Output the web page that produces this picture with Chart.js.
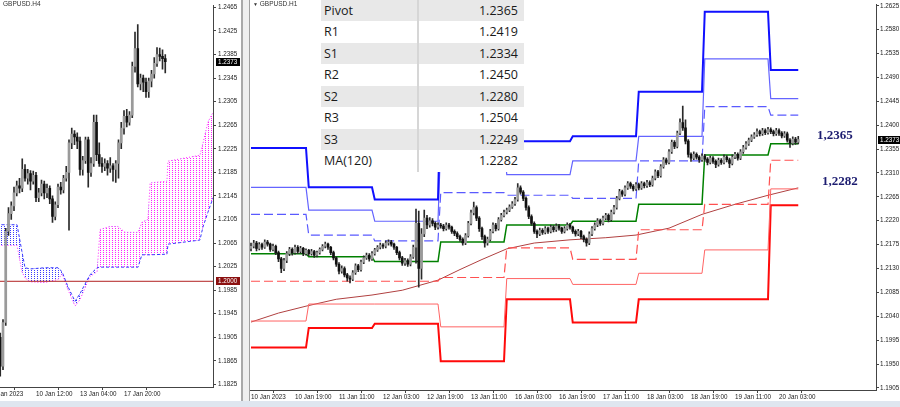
<!DOCTYPE html>
<html>
<head>
<meta charset="utf-8">
<script src="https://cdn.jsdelivr.net/npm/chart.js@4/dist/chart.umd.min.js"></script>
<style>
  body { margin: 0; width: 900px; height: 407px; overflow: hidden; background: #fff; position: relative; font-family: 'Liberation Sans', Arial, sans-serif; }
  canvas { position: absolute; top: 0; }
  #h4 { left: -30px; }
  #h1 { left: 249px; }
  .sep1 { position: absolute; left: 241px; top: 0; width: 2px; height: 401px; background: #a9a9a9; }
  .sep2 { position: absolute; left: 243px; top: 0; width: 6px; height: 401px; background: #efefef; }
  .sep3 { position: absolute; left: 249px; top: 0; width: 1px; height: 401px; background: #a0a0a0; }
  .status { position: absolute; left: 0; top: 401px; width: 900px; height: 6px; background: #dfe6ef; }
  .ttl { position: absolute; top: 0; font-size: 6.5px; color: #333; }
  #piv { position: absolute; left: 321px; top: -0.5px; width: 203px; font: 12.5px 'Open Sans', sans-serif; color: #1a1a1a; }
  #piv div.row { position: relative; height: 21.5px; line-height: 21.5px; }
  #piv div.row:nth-child(odd) { background: #e8e8e8; }
  #piv div.row:nth-child(even) { background: #fff; }
  #piv span.k { position: absolute; left: 3px; }
  #piv span.v { position: absolute; right: 6px; }
  #piv div.col { position: absolute; left: 96px; top: 0; width: 2px; height: 172px; background: #d6d6d6; }
  .note { position: absolute; font: bold 13px 'Liberation Serif', serif; color: #1c1c70; }
</style>
</head>
<body>
<canvas id="h4" width="273" height="401"></canvas>
<canvas id="h1" width="651" height="401"></canvas>
<div class="sep1"></div><div class="sep2"></div><div class="sep3"></div>
<div class="status"></div>
<div class="ttl" style="left:3px">GBPUSD.H4</div>
<div class="ttl" style="left:253px"><span style="font-size:5px">▼</span> GBPUSD.H1</div>
<div id="piv"></div>
<div class="note" id="n1" style="left:817px;top:127px"></div>
<div class="note" id="n2" style="left:822px;top:173px"></div>
<script>
// ---------- H4 panel (left) ----------
const h4First = 3;
const h4Open  = [1.1905,1.1856,1.1930,1.2085,1.2115,1.2128,1.2150,1.2162,1.2158,1.2190,1.2175,1.2183,1.2170,1.2180,1.2142,1.2150,1.2165,1.2150,1.2158,1.2140,1.2110,1.2130,1.2160,1.2155,1.2175,1.2185,1.2235,1.2250,1.2245,1.2238,1.2190,1.2205,1.2240,1.2185,1.2200,1.2270,1.2215,1.2200,1.2195,1.2200,1.2192,1.2196,1.2190,1.2200,1.2235,1.2260,1.2280,1.2270,1.2282,1.2365,1.2395,1.2335,1.2345,1.2338,1.2322,1.2340,1.2352,1.2370,1.2385,1.2382,1.2378];
const h4High  = [1.1912,1.1935,1.2090,1.2125,1.2135,1.2160,1.2170,1.2175,1.2208,1.2198,1.2190,1.2188,1.2187,1.2185,1.2158,1.2172,1.2170,1.2165,1.2162,1.2145,1.2135,1.2165,1.2168,1.2180,1.2195,1.2240,1.2260,1.2256,1.2252,1.2245,1.2212,1.2245,1.2245,1.2210,1.2282,1.2282,1.2235,1.2210,1.2208,1.2205,1.2210,1.2200,1.2205,1.2240,1.2270,1.2290,1.2292,1.2288,1.2372,1.2423,1.2436,1.2352,1.2350,1.2345,1.2345,1.2358,1.2380,1.2397,1.2396,1.2393,1.2385];
const h4Low   = [1.1839,1.1850,1.1925,1.2078,1.2105,1.2120,1.2145,1.2150,1.2152,1.2170,1.2165,1.2155,1.2165,1.2135,1.2135,1.2145,1.2140,1.2142,1.2132,1.2100,1.2104,1.2125,1.2148,1.2150,1.2170,1.2087,1.2225,1.2232,1.2225,1.2180,1.2180,1.2200,1.2160,1.2178,1.2195,1.2205,1.2195,1.2185,1.2188,1.2180,1.2185,1.2170,1.2168,1.2175,1.2225,1.2250,1.2262,1.2265,1.2278,1.2355,1.2330,1.2325,1.2322,1.2312,1.2312,1.2330,1.2345,1.2365,1.2374,1.2360,1.2354];
const h4Close = [1.1856,1.1930,1.2085,1.2115,1.2128,1.2150,1.2162,1.2158,1.2190,1.2175,1.2183,1.2170,1.2180,1.2142,1.2150,1.2165,1.2150,1.2158,1.2140,1.2110,1.2130,1.2160,1.2155,1.2175,1.2185,1.2235,1.2250,1.2245,1.2238,1.2190,1.2205,1.2240,1.2185,1.2200,1.2270,1.2215,1.2200,1.2195,1.2200,1.2192,1.2196,1.2190,1.2200,1.2235,1.2260,1.2280,1.2270,1.2282,1.2365,1.2395,1.2335,1.2345,1.2338,1.2322,1.2340,1.2352,1.2370,1.2385,1.2382,1.2378,1.2373];
// Ichimoku cloud edges (bar index, Senkou A, Senkou B)
const cloudIdx = [-2,9.1,10.9,12,13.8,19.3,24,25.5,27.6,30.2,32,35.6,38.2,39.3,42.9,45.8,48.4,53.1,54.5,56.7,57.5,63.6,64,75.6,76.7,78.5,80.4];
const spanA = [1.2096,1.2096,1.2050,1.2023,1.2021,1.2023,1.2023,1.2016,1.1991,1.1966,1.1979,1.2011,1.2023,1.2024,1.2024,1.2024,1.2024,1.2024,1.2045,1.2045,1.2045,1.2046,1.2063,1.2070,1.2092,1.2117,1.2142];
const spanB = [1.2061,1.2061,1.2016,1.2006,1.1999,1.1998,1.2003,1.2013,1.1986,1.1958,1.1969,1.2008,1.2016,1.2088,1.2093,1.2093,1.2083,1.2083,1.2100,1.2105,1.2167,1.2170,1.2204,1.2214,1.2234,1.2270,1.2287];
const h4Level = 1.2000;
const h4TickIdx = [0,16,32,48];
const h4TickLabels = ['5 Jan 2023','10 Jan 12:00','13 Jan 04:00','17 Jan 20:00'];
const h4YTicks = [1.1825,1.1865,1.1905,1.1945,1.1985,1.2025,1.2065,1.2105,1.2145,1.2185,1.2225,1.2265,1.2305,1.2345,1.2385,1.2425,1.2465];

// ---------- H1 panel (right) ----------
const h1Open = [1.2168,1.2172,1.2178,1.2168,1.2175,1.2170,1.2180,1.2176,1.2166,1.2172,
1.2160,1.2148,1.2130,1.2145,1.2158,1.2166,1.2160,1.2170,1.2162,1.2168,
1.2158,1.2164,1.2158,1.2162,1.2155,1.2160,1.2166,1.2172,1.2176,1.2170,
1.2160,1.2150,1.2138,1.2125,1.2130,1.2118,1.2112,1.2110,1.2122,1.2135,
1.2128,1.2142,1.2150,1.2155,1.2148,1.2158,1.2165,1.2170,1.2174,1.2172,
1.2178,1.2180,1.2176,1.2170,1.2160,1.2150,1.2140,1.2145,1.2138,1.2152,
1.2170,1.2215,1.2130,1.2195,1.2225,1.2212,1.2220,1.2215,1.2208,1.2212,
1.2210,1.2205,1.2212,1.2208,1.2200,1.2196,1.2190,1.2185,1.2178,1.2192,
1.2215,1.2235,1.2245,1.2225,1.2205,1.2190,1.2178,1.2185,1.2200,1.2212,
1.2205,1.2222,1.2230,1.2236,1.2240,1.2246,1.2252,1.2260,1.2282,1.2274,
1.2262,1.2245,1.2228,1.2215,1.2200,1.2195,1.2202,1.2198,1.2205,1.2200,
1.2208,1.2203,1.2210,1.2206,1.2200,1.2205,1.2212,1.2208,1.2200,1.2195,
1.2200,1.2190,1.2185,1.2178,1.2195,1.2205,1.2212,1.2220,1.2215,1.2225,
1.2230,1.2222,1.2236,1.2245,1.2262,1.2275,1.2270,1.2282,1.2290,1.2285,
1.2280,1.2288,1.2282,1.2290,1.2286,1.2292,1.2288,1.2300,1.2312,1.2305,
1.2322,1.2335,1.2330,1.2350,1.2368,1.2360,1.2385,1.2405,1.2395,1.2370,
1.2345,1.2338,1.2345,1.2340,1.2335,1.2342,1.2336,1.2330,1.2338,1.2332,
1.2326,1.2334,1.2330,1.2340,1.2335,1.2328,1.2340,1.2345,1.2338,1.2350,
1.2358,1.2365,1.2372,1.2378,1.2382,1.2388,1.2384,1.2390,1.2386,1.2392,
1.2388,1.2384,1.2390,1.2385,1.2380,1.2384,1.2372,1.2366,1.2374,1.2368];
const h1High = [1.2178,1.2183,1.2181,1.2179,1.2178,1.2184,1.2183,1.2178,1.2176,1.2174,
1.2163,1.2151,1.2149,1.2162,1.2170,1.2169,1.2174,1.2173,1.2172,1.2170,
1.2167,1.2166,1.2166,1.2164,1.2163,1.2169,1.2175,1.2180,1.2178,1.2172,
1.2163,1.2152,1.2141,1.2135,1.2133,1.2121,1.2116,1.2126,1.2139,1.2138,
1.2146,1.2154,1.2159,1.2158,1.2162,1.2168,1.2173,1.2178,1.2177,1.2182,
1.2184,1.2183,1.2178,1.2172,1.2163,1.2153,1.2149,1.2148,1.2156,1.2174,
1.2242,1.2238,1.2205,1.2240,1.2230,1.2226,1.2224,1.2218,1.2216,1.2215,
1.2213,1.2216,1.2215,1.2210,1.2203,1.2199,1.2193,1.2188,1.2196,1.2219,
1.2240,1.2255,1.2248,1.2228,1.2208,1.2193,1.2189,1.2204,1.2216,1.2215,
1.2226,1.2234,1.2240,1.2244,1.2250,1.2256,1.2264,1.2290,1.2286,1.2277,
1.2265,1.2248,1.2231,1.2218,1.2203,1.2206,1.2205,1.2209,1.2208,1.2212,
1.2211,1.2214,1.2213,1.2208,1.2209,1.2216,1.2215,1.2210,1.2203,1.2204,
1.2202,1.2193,1.2188,1.2199,1.2209,1.2216,1.2224,1.2223,1.2229,1.2234,
1.2233,1.2240,1.2249,1.2266,1.2279,1.2278,1.2286,1.2294,1.2293,1.2288,
1.2292,1.2291,1.2294,1.2293,1.2296,1.2295,1.2304,1.2316,1.2315,1.2326,
1.2339,1.2338,1.2354,1.2372,1.2371,1.2389,1.2412,1.2436,1.2410,1.2373,
1.2348,1.2350,1.2348,1.2343,1.2346,1.2345,1.2339,1.2342,1.2341,1.2335,
1.2338,1.2337,1.2344,1.2343,1.2338,1.2344,1.2349,1.2348,1.2354,1.2362,
1.2369,1.2376,1.2382,1.2386,1.2393,1.2391,1.2394,1.2393,1.2396,1.2395,
1.2391,1.2394,1.2393,1.2388,1.2388,1.2387,1.2375,1.2378,1.2377,1.2379];
const h1Low = [1.2163,1.2169,1.2163,1.2165,1.2166,1.2168,1.2172,1.2162,1.2163,1.2156,
1.2143,1.2122,1.2126,1.2141,1.2154,1.2155,1.2157,1.2158,1.2159,1.2154,
1.2155,1.2154,1.2155,1.2151,1.2152,1.2157,1.2163,1.2169,1.2166,1.2156,
1.2146,1.2134,1.2120,1.2121,1.2114,1.2106,1.2103,1.2107,1.2119,1.2124,
1.2125,1.2139,1.2147,1.2144,1.2145,1.2155,1.2162,1.2167,1.2168,1.2169,
1.2174,1.2172,1.2166,1.2156,1.2146,1.2136,1.2136,1.2134,1.2135,1.2149,
1.2140,1.2095,1.2110,1.2190,1.2205,1.2208,1.2210,1.2203,1.2204,1.2206,
1.2201,1.2202,1.2204,1.2196,1.2192,1.2186,1.2181,1.2174,1.2175,1.2189,
1.2212,1.2231,1.2220,1.2200,1.2185,1.2170,1.2174,1.2182,1.2197,1.2201,
1.2202,1.2219,1.2227,1.2233,1.2237,1.2243,1.2249,1.2257,1.2270,1.2258,
1.2240,1.2224,1.2211,1.2196,1.2188,1.2192,1.2194,1.2195,1.2196,1.2197,
1.2199,1.2200,1.2202,1.2196,1.2197,1.2202,1.2204,1.2196,1.2191,1.2192,
1.2186,1.2180,1.2172,1.2175,1.2192,1.2202,1.2209,1.2211,1.2212,1.2222,
1.2218,1.2219,1.2233,1.2242,1.2259,1.2266,1.2267,1.2279,1.2281,1.2276,
1.2277,1.2278,1.2279,1.2282,1.2283,1.2284,1.2285,1.2297,1.2301,1.2302,
1.2319,1.2326,1.2327,1.2347,1.2356,1.2357,1.2382,1.2390,1.2365,1.2340,
1.2332,1.2335,1.2336,1.2330,1.2332,1.2332,1.2325,1.2327,1.2328,1.2320,
1.2323,1.2326,1.2327,1.2331,1.2320,1.2325,1.2337,1.2334,1.2335,1.2347,
1.2355,1.2362,1.2369,1.2375,1.2379,1.2380,1.2381,1.2382,1.2383,1.2384,
1.2380,1.2381,1.2381,1.2376,1.2377,1.2368,1.2358,1.2363,1.2364,1.2365];
const h1Close = [1.2172,1.2178,1.2168,1.2175,1.2170,1.2180,1.2176,1.2166,1.2172,1.2160,
1.2148,1.2130,1.2145,1.2158,1.2166,1.2160,1.2170,1.2162,1.2168,1.2158,
1.2164,1.2158,1.2162,1.2155,1.2160,1.2166,1.2172,1.2176,1.2170,1.2160,
1.2150,1.2138,1.2125,1.2130,1.2118,1.2112,1.2110,1.2122,1.2135,1.2128,
1.2142,1.2150,1.2155,1.2148,1.2158,1.2165,1.2170,1.2174,1.2172,1.2178,
1.2180,1.2176,1.2170,1.2160,1.2150,1.2140,1.2145,1.2138,1.2152,1.2170,
1.2215,1.2130,1.2195,1.2225,1.2212,1.2220,1.2215,1.2208,1.2212,1.2210,
1.2205,1.2212,1.2208,1.2200,1.2196,1.2190,1.2185,1.2178,1.2192,1.2215,
1.2235,1.2245,1.2225,1.2205,1.2190,1.2178,1.2185,1.2200,1.2212,1.2205,
1.2222,1.2230,1.2236,1.2240,1.2246,1.2252,1.2260,1.2282,1.2274,1.2262,
1.2245,1.2228,1.2215,1.2200,1.2195,1.2202,1.2198,1.2205,1.2200,1.2208,
1.2203,1.2210,1.2206,1.2200,1.2205,1.2212,1.2208,1.2200,1.2195,1.2200,
1.2190,1.2185,1.2178,1.2195,1.2205,1.2212,1.2220,1.2215,1.2225,1.2230,
1.2222,1.2236,1.2245,1.2262,1.2275,1.2270,1.2282,1.2290,1.2285,1.2280,
1.2288,1.2282,1.2290,1.2286,1.2292,1.2288,1.2300,1.2312,1.2305,1.2322,
1.2335,1.2330,1.2350,1.2368,1.2360,1.2385,1.2405,1.2395,1.2370,1.2345,
1.2338,1.2345,1.2340,1.2335,1.2342,1.2336,1.2330,1.2338,1.2332,1.2326,
1.2334,1.2330,1.2340,1.2335,1.2328,1.2340,1.2345,1.2338,1.2350,1.2358,
1.2365,1.2372,1.2378,1.2382,1.2388,1.2384,1.2390,1.2386,1.2392,1.2388,
1.2384,1.2390,1.2385,1.2380,1.2384,1.2372,1.2366,1.2374,1.2368,1.2373];
// daily pivot levels, one value per trading day starting at dayStart
const dayStart = [0,21,45,69,93,117,141,165,189];
const pivR3 = [1.2357,1.2283,1.2260,1.2464,1.2370,1.2379,1.2463,1.2614,1.2504];
const pivR2 = [1.2283,1.2240,1.2219,1.2371,1.2307,1.2333,1.2379,1.2525,1.2450];
const pivR1 = [1.2232,1.2193,1.2182,1.2273,1.2268,1.2262,1.2333,1.2435,1.2419];
const pivP  = [1.2158,1.2152,1.2143,1.2180,1.2212,1.2219,1.2251,1.2344,1.2365];
const pivS1 = [1.2106,1.2106,1.2106,1.2113,1.2169,1.2147,1.2203,1.2251,1.2334];
const pivS2 = [1.2031,1.2063,1.2063,1.2020,1.2111,1.2100,1.2121,1.2165,1.2280];
const pivS3 = [1.1981,1.2018,1.2026,1.1955,1.2072,1.2028,1.2072,1.2072,1.2249];
// MA(120) read at these bars
const maIdx = [0,10,20,31,44,55,68,76,84,93,103,116,129,140,152,164,176,188,199];
const maVal = [1.2029,1.2046,1.2059,1.2072,1.2080,1.2089,1.2108,1.2128,1.2147,1.2167,1.2178,1.2184,1.2188,1.2193,1.2206,1.2232,1.2251,1.2268,1.2282];
const h1TickIdx = [0,16,32,48,64,80,96,112,128,144,160,176,192];
const h1TickLabels = ['10 Jan 2023','10 Jan 19:00','11 Jan 11:00','12 Jan 03:00','12 Jan 19:00','13 Jan 11:00','16 Jan 03:00','16 Jan 19:00','17 Jan 11:00','18 Jan 03:00','18 Jan 19:00','19 Jan 11:00','20 Jan 03:00'];
const h1YTicks = [1.1905,1.1950,1.1995,1.2040,1.2085,1.2130,1.2175,1.2220,1.2265,1.2310,1.2355,1.2400,1.2445,1.2490,1.2535,1.2580,1.2625];

const tableKeys = ['Pivot','R1','S1','R2','S2','R3','S3','MA(120)'];
const tableSeries = [pivP, pivR1, pivS1, pivR2, pivS2, pivR3, pivS3, maVal];

// ---------- helpers ----------
const tickFont = { family: "'Liberation Sans', Arial, sans-serif", size: 6.3 };
const last = a => a[a.length - 1];

function candles(first, o, h, l, c) {
  const up = [], dn = [], wick = [];
  o.forEach((v, k) => {
    wick.push({ x: first + k, y: [l[k], h[k]] });
    (c[k] >= v ? up : dn).push({ x: first + k, y: [v, c[k]] });
  });
  return [
    { type: 'bar', data: up, backgroundColor: '#9a9a9a', barThickness: 2, grouped: false, minBarLength: 1 },
    { type: 'bar', data: dn, backgroundColor: '#111', barThickness: 2, grouped: false, minBarLength: 1 },
    { type: 'bar', data: wick, backgroundColor: '#2a2a2a', barThickness: 1, grouped: false }
  ];
}

function steps(vals) {
  const pts = [];
  vals.forEach((v, d) => {
    const end = d < dayStart.length - 1 ? dayStart[d + 1] - 1 : h1Close.length - 1;
    pts.push({ x: dayStart[d], y: v }, { x: end, y: v });
  });
  return pts;
}

function line(data, color, width, dash, extra) {
  return Object.assign({ type: 'line', data, borderColor: color, borderWidth: width, borderDash: dash || [],
    pointRadius: 0, tension: 0, fill: false }, extra || {});
}

function xAxis(min, max, idx, labels, h) {
  return {
    type: 'linear', min, max, offset: false,
    afterBuildTicks: s => { s.ticks = idx.map(v => ({ value: v })); },
    afterFit: s => { s.height = h; },
    ticks: { autoSkip: false, maxRotation: 0, align: 'start', padding: 0, color: '#222', font: tickFont,
      callback: v => labels[idx.indexOf(v)] },
    grid: { drawOnChartArea: false, tickLength: 3, color: '#444' },
    border: { color: '#444' }
  };
}

function yAxis(min, max, vals, w, pad) {
  return {
    type: 'linear', position: 'right', min, max,
    afterBuildTicks: s => { s.ticks = vals.map(v => ({ value: v })); },
    afterFit: s => { s.width = w; },
    ticks: { padding: pad, color: '#222', font: tickFont, callback: v => v.toFixed(4) },
    grid: { drawOnChartArea: false, tickLength: 3, color: '#444' },
    border: { color: '#444' }
  };
}

// price tags on the value axis
const tagPlugin = {
  id: 'tags',
  afterDraw(chart, args, opts) {
    const { ctx, chartArea, scales } = chart;
    (opts.items || []).forEach(t => {
      const y = Math.round(scales.y.getPixelForValue(t.value));
      ctx.save();
      ctx.fillStyle = t.bg;
      ctx.fillRect(chartArea.right + opts.dx, y - 4, opts.w, 8);
      ctx.fillStyle = '#fff';
      ctx.font = "6.3px 'Liberation Sans', Arial";
      ctx.textBaseline = 'middle';
      ctx.fillText(t.value.toFixed(4), chartArea.right + opts.dx + 2, y + 0.5);
      ctx.restore();
    });
  }
};

function dotPattern(ctx, color) {
  const t = document.createElement('canvas');
  t.width = 3; t.height = 2;
  const g = t.getContext('2d');
  g.fillStyle = color;
  g.fillRect(1, 0, 1, 1);
  return ctx.createPattern(t, 'repeat');
}

// ---------- left chart ----------
const c4 = document.getElementById('h4').getContext('2d');
const cloudPts = arr => cloudIdx.map((x, k) => ({ x, y: arr[k] }));
new Chart(c4, {
  type: 'bar',
  data: {
    datasets: [
      ...candles(h4First, h4Open, h4High, h4Low, h4Close),
      line([{ x: -8, y: h4Level }, { x: 80.4, y: h4Level }], '#b22222', 1),
      line(cloudPts(spanA), '#3a3aff', 1, [3, 2], { fill: { target: 5, above: dotPattern(c4, '#3a3aff'), below: dotPattern(c4, '#ff22ff') } }),
      line(cloudPts(spanB), '#ff22ff', 1, [1, 2])
    ]
  },
  options: {
    responsive: false, animation: false, devicePixelRatio: 1,
    layout: { padding: 0, autoPadding: false },
    plugins: { legend: { display: false }, tooltip: { enabled: false },
      tags: { dx: 3, w: 24, items: [{ value: last(h4Close), bg: '#000' }, { value: h4Level, bg: '#8b1010' }] } },
    scales: {
      x: xAxis(-8, 80.36, h4TickIdx, h4TickLabels, 14),
      y: yAxis(1.18205, 1.24678, h4YTicks, 30, 2)
    }
  },
  plugins: [tagPlugin]
});

// ---------- right chart ----------
const c1 = document.getElementById('h1').getContext('2d');
new Chart(c1, {
  type: 'bar',
  data: {
    datasets: [
      ...candles(0, h1Open, h1High, h1Low, h1Close),
      line(steps(pivR3), '#1010ff', 2),
      line(steps(pivR2), '#6464ff', 1.2),
      line(steps(pivR1), '#5a5aff', 1.2, [9, 4]),
      line(steps(pivP), '#008000', 1.5),
      line(steps(pivS1), '#ff5050', 1.2, [9, 4]),
      line(steps(pivS2), '#ff6464', 1),
      line(steps(pivS3), '#ff0a0a', 2),
      line(maIdx.map((x, k) => ({ x, y: maVal[k] })), '#b04040', 1)
    ]
  },
  options: {
    responsive: false, animation: false, devicePixelRatio: 1,
    layout: { padding: { left: 1 }, autoPadding: false },
    plugins: { legend: { display: false }, tooltip: { enabled: false },
      tags: { dx: 2, w: 23, items: [{ value: last(h1Close), bg: '#000' }] } },
    scales: {
      x: xAxis(-0.364, 227.27, h1TickIdx, h1TickLabels, 11),
      y: yAxis(1.1901, 1.2627, h1YTicks, 24, 1)
    }
  },
  plugins: [tagPlugin]
});

// ---------- pivot table and notes ----------
const piv = document.getElementById('piv');
tableKeys.forEach((k, r) => {
  const row = document.createElement('div');
  row.className = 'row';
  row.innerHTML = '<span class="k">' + k + '</span><span class="v">' + last(tableSeries[r]).toFixed(4) + '</span>';
  piv.appendChild(row);
});
const col = document.createElement('div');
col.className = 'col';
piv.appendChild(col);
document.getElementById('n1').textContent = last(pivP).toFixed(4).replace('.', ',');
document.getElementById('n2').textContent = last(maVal).toFixed(4).replace('.', ',');
</script>
</body>
</html>
